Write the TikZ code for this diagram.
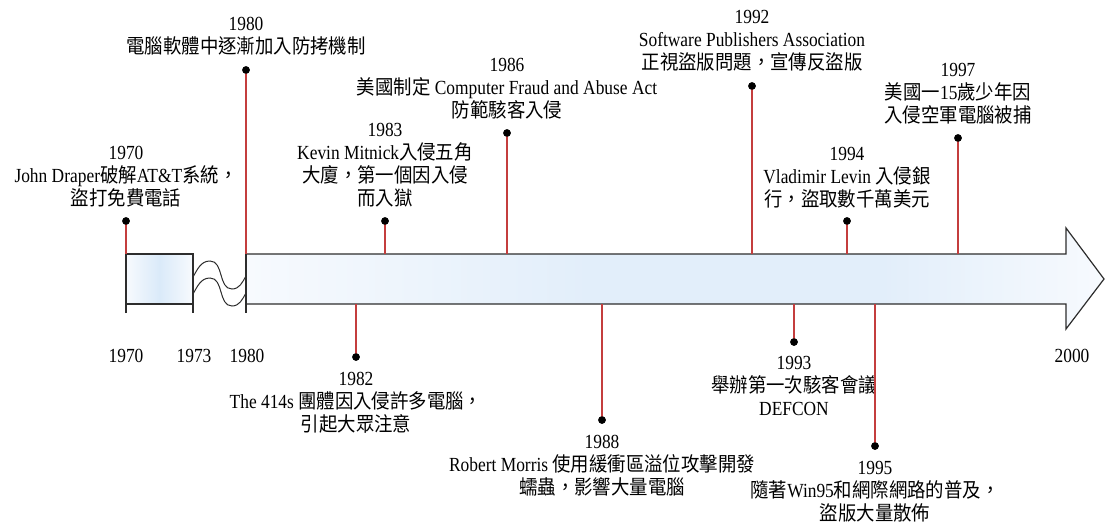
\documentclass[tikz,border=0pt]{standalone}
\usepackage{fontspec}
\setmainfont[FakeStretch=0.87]{Liberation Serif}
\newfontfamily\cjkfont[FakeStretch=0.92]{Noto Sans CJK TC}
\newcommand\zh[1]{{\cjkfont #1}}
\definecolor{stemred}{RGB}{196,62,62}
\definecolor{outl}{RGB}{45,45,45}
\definecolor{shaftblue}{RGB}{226,238,250}
\definecolor{boxblue}{RGB}{218,234,249}
\definecolor{paleblue}{RGB}{247,250,254}
\pgfdeclarehorizontalshading{shaftshade}{100bp}{color(0bp)=(paleblue); color(25bp)=(paleblue); color(45bp)=(shaftblue); color(62bp)=(shaftblue); color(75bp)=(paleblue); color(100bp)=(paleblue)}
\pgfdeclarehorizontalshading{boxshade}{100bp}{color(0bp)=(paleblue); color(25bp)=(paleblue); color(50bp)=(boxblue); color(75bp)=(paleblue); color(100bp)=(paleblue)}
\begin{document}
\begin{tikzpicture}[x=1pt,y=-1pt,
  txt/.style={font=\fontsize{20}{23}\selectfont, align=center, inner sep=0pt},
  toplabel/.style={txt, anchor=south, text depth=0pt},
  botlabel/.style={txt, anchor=north},
  yearlabel/.style={txt, anchor=base},
  dot/.style={circle, fill=black, inner sep=0pt, minimum size=7.5pt},
  stem/.style={draw=stemred, line width=1.3pt},
  outline/.style={draw=outl, line width=1.2pt},
]
\useasboundingbox (0,0) rectangle (1105,522);

% axis shapes
\path[shading=boxshade] (126,254) rectangle (193,304);
\path[shading=shaftshade] (246,254) -- (1066,254) -- (1066,228) -- (1104,279) -- (1066,329) -- (1066,304) -- (246,304) -- cycle;
\draw[outline] (126,313) -- (126,254) -- (193,254) -- (193,313);
\draw[outline] (126,304) -- (193,304);
\draw[outline] (246,254) -- (1066,254) -- (1066,228) -- (1104,279) -- (1066,329) -- (1066,304) -- (246,304);
\draw[outline] (246,254) -- (246,313);
% break waves
\draw[outline, line width=1pt] (193,277) to[out=60,in=180] (210,261) to[out=0,in=180] (232,289) to[out=0,in=240] (246,276);
\draw[outline, line width=1pt] (193,294) to[out=60,in=180] (210,278) to[out=0,in=180] (232,306) to[out=0,in=240] (246,293);

% axis anchor coordinates
\coordinate (a1970) at (126,254);
\coordinate (a1980) at (246,254);
\coordinate (a1983) at (385,254);
\coordinate (a1986) at (507,254);
\coordinate (a1992) at (752,254);
\coordinate (a1994) at (847,254);
\coordinate (a1997) at (958,254);
\coordinate (a1982) at (356,304);
\coordinate (a1988) at (602,304);
\coordinate (a1993) at (794,304);
\coordinate (a1995) at (875,304);

% year labels under axis
\node[yearlabel] (y1970) at (126,362) {1970};
\node[yearlabel] (y1973) at (194,362) {1973};
\node[yearlabel] (y1980) at (247,362) {1980};
\node[yearlabel] (y2000) at (1072,362) {2000};

% event labels above
\node[toplabel] (l1970) at (126,206) {1970\\John Draper\zh{破解}AT\&T\zh{系統，}\\\zh{盜打免費電話}};
\node[toplabel] (l1980) at (246,54) {1980\\\zh{電腦軟體中逐漸加入防拷機制}};
\node[toplabel] (l1983) at (385,206) {1983\\Kevin Mitnick\zh{入侵五角}\\\zh{大廈，第一個因入侵}\\\zh{而入獄}};
\node[toplabel] (l1986) at (507,118) {1986\\\zh{美國制定} Computer Fraud and Abuse Act\\\zh{防範駭客入侵}};
\node[toplabel] (l1992) at (752,70) {1992\\Software Publishers Association\\\zh{正視盜版問題，宣傳反盜版}};
\node[toplabel] (l1994) at (847,207) {1994\\Vladimir Levin \zh{入侵銀}\\\zh{行，盜取數千萬美元}};
\node[toplabel] (l1997) at (958,123) {1997\\\zh{美國一}15\zh{歲少年因}\\\zh{入侵空軍電腦被捕}};

% event labels below
\node[botlabel] (l1982) at (356,372) {1982\\The 414s \zh{團體因入侵許多電腦，}\\\zh{引起大眾注意}};
\node[botlabel] (l1988) at (602,435) {1988\\Robert Morris \zh{使用緩衝區溢位攻擊開發}\\\zh{蠕蟲，影響大量電腦}};
\node[botlabel] (l1993) at (794,356) {1993\\\zh{舉辦第一次駭客會議}\\DEFCON};
\node[botlabel] (l1995) at (875,461) {1995\\\zh{隨著}Win95\zh{和網際網路的普及，}\\\zh{盜版大量散佈}};

% dots
\node[dot] (d1970) at (126,221) {};
\node[dot] (d1980) at (246,70) {};
\node[dot] (d1983) at (385,221) {};
\node[dot] (d1986) at (507,133) {};
\node[dot] (d1992) at (752,86) {};
\node[dot] (d1994) at (847,221) {};
\node[dot] (d1997) at (958,138) {};
\node[dot] (d1982) at (356,357) {};
\node[dot] (d1988) at (602,420) {};
\node[dot] (d1993) at (794,342) {};
\node[dot] (d1995) at (875,446) {};

% stems
\foreach \y in {1970,1980,1983,1986,1992,1994,1997,1982,1988,1993,1995}
  \draw[stem] (d\y.center) -- (a\y);
\foreach \y in {1970,1980,1983,1986,1992,1994,1997,1982,1988,1993,1995}
  \node[dot] at (d\y) {};
\end{tikzpicture}
\end{document}
